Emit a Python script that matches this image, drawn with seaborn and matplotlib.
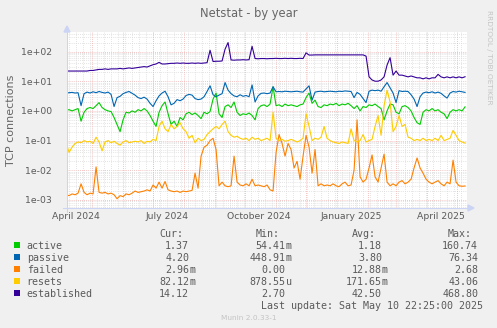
import numpy as np
import pandas as pd
import matplotlib
matplotlib.use("Agg")
import matplotlib.pyplot as plt
import matplotlib.dates as mdates
from matplotlib.ticker import LogLocator, FuncFormatter, NullFormatter, FixedLocator
from matplotlib.patches import Rectangle, Polygon
from matplotlib.lines import Line2D
import seaborn as sns

# ---- data: one sample every 3 days, starting 2024-04-05 ----
start_date = "2024-04-05"
step_days = 3

active = [
    1.05, 1.1, 1.0, 1.1, 1.2, 0.45, 0.9, 1.2, 1.3, 1.2,
    1.5, 1.9, 1.3, 1.1, 1.0, 0.95, 0.6, 0.35, 0.2, 0.5,
    0.9, 0.85, 1.0, 0.9, 1.1, 1.0, 1.2, 1.0, 0.7, 0.45,
    0.3, 0.9, 1.5, 2.0, 0.8, 0.35, 0.45, 0.3, 0.6, 0.5,
    0.8, 0.9, 0.75, 0.85, 0.7, 0.55, 0.9, 0.8, 0.95, 2.5,
    4.0, 0.8, 0.6, 1.4, 1.6, 1.3, 2.0, 0.9, 0.7, 0.8,
    0.75, 0.85, 0.7, 0.5, 1.2, 1.5, 1.6, 1.4, 1.7, 6.5,
    1.5, 1.6, 1.4, 1.7, 1.5, 1.6, 1.5, 1.4, 1.6, 1.7,
    2.8, 4.0, 1.8, 2.3, 1.4, 1.3, 1.6, 1.5, 1.7, 1.6,
    1.8, 1.5, 1.7, 1.6, 1.8, 1.5, 1.2, 1.5, 1.0, 1.4,
    1.3, 1.6, 1.5, 1.7, 1.4, 1.2, 0.5, 1.0, 1.7, 1.6,
    0.9, 0.8, 1.4, 1.5, 1.3, 1.0, 0.6, 0.4, 0.35, 0.9,
    1.1, 1.0, 1.2, 1.0, 1.1, 0.9, 0.8, 0.55, 0.9, 1.1,
    1.0, 1.1, 1.0, 1.37,
]

passive = [
    4.0, 4.1, 4.2, 4.0, 4.1, 1.5, 3.8, 4.3, 4.0, 4.4,
    4.1, 4.5, 4.2, 4.0, 4.3, 3.6, 1.4, 2.8, 3.1, 3.8,
    4.2, 4.5, 3.9, 3.4, 2.8, 2.6, 2.9, 2.5, 1.8, 1.4,
    2.2, 3.2, 4.0, 4.6, 3.0, 1.6, 1.8, 2.4, 2.2, 2.5,
    3.3, 3.6, 3.4, 2.6, 2.4, 2.5, 3.0, 4.5, 7.0, 3.5,
    3.0, 3.4, 3.8, 9.0, 5.0, 3.8, 3.2, 3.0, 3.5, 3.1,
    3.3, 3.0, 7.5, 2.0, 3.2, 3.9, 4.0, 3.8, 4.0, 6.5,
    4.4, 4.5, 4.4, 4.6, 4.5, 4.4, 4.5, 4.6, 4.4, 4.3,
    5.5, 7.0, 2.3, 4.3, 4.5, 4.6, 4.4, 4.5, 4.6, 4.5,
    4.4, 4.6, 4.5, 4.7, 4.6, 4.5, 2.8, 4.2, 3.6, 2.6,
    1.9, 4.6, 5.0, 4.8, 5.0, 4.6, 6.5, 9.0, 6.0, 4.0,
    1.9, 4.8, 4.5, 4.6, 4.5, 3.5, 2.5, 1.4, 3.0, 4.0,
    4.3, 4.1, 4.4, 4.0, 4.3, 3.9, 3.2, 2.7, 4.0, 4.5,
    4.3, 4.6, 4.4, 4.20,
]

failed = [
    0.0015, 0.0014, 0.0016, 0.0015, 0.0017, 0.0035, 0.0018, 0.0015, 0.0017, 0.0016,
    0.013, 0.0018, 0.0017, 0.0018, 0.0016, 0.0017, 0.0015, 0.0011, 0.0014, 0.0013,
    0.0016, 0.0015, 0.0017, 0.002, 0.0018, 0.0019, 0.002, 0.0022, 0.002, 0.0032,
    0.0025, 0.004, 0.0025, 0.0042, 0.0022, 0.002, 0.0019, 0.002, 0.0018, 0.002,
    0.0019, 0.002, 0.0021, 0.008, 0.0025, 0.03, 0.06, 0.07, 0.1, 0.12,
    0.05, 0.003, 0.004, 0.003, 0.0028, 0.003, 0.03, 0.004, 0.0032, 0.003,
    0.0035, 0.003, 0.005, 0.003, 0.0032, 0.003, 0.0028, 0.0032, 0.0022, 0.002,
    0.04, 0.16, 0.08, 0.03, 0.08, 0.05, 0.012, 0.02, 0.005, 0.03,
    0.15, 0.06, 0.008, 0.05, 0.003, 0.0035, 0.003, 0.0032, 0.003, 0.0035,
    0.003, 0.0028, 0.0035, 0.004, 0.003, 0.0032, 0.01, 0.5, 0.006, 0.004,
    0.005, 0.012, 0.033, 0.006, 0.004, 0.012, 0.035, 0.004, 0.003, 0.0035,
    0.003, 0.004, 0.0045, 0.0035, 0.004, 0.005, 0.012, 0.026, 0.012, 0.008,
    0.005, 0.004, 0.0035, 0.004, 0.0045, 0.0035, 0.003, 0.004, 0.0035, 0.022,
    0.004, 0.003, 0.0029, 0.00296,
]

resets = [
    0.085, 0.04, 0.06, 0.08, 0.09, 0.085, 0.1, 0.09, 0.095, 0.08,
    0.13, 0.09, 0.045, 0.09, 0.1, 0.085, 0.095, 0.08, 0.07, 0.09,
    0.1, 0.085, 0.09, 0.095, 0.09, 0.1, 0.08, 0.095, 0.09, 0.11,
    0.1, 0.3, 0.45, 0.25, 0.2, 0.35, 0.25, 0.3, 0.4, 0.25,
    0.2, 0.12, 0.15, 0.085, 0.12, 0.1, 0.11, 0.16, 0.2, 0.25,
    0.3, 0.25, 0.35, 0.45, 0.2, 0.15, 0.13, 0.14, 0.12, 0.11,
    0.12, 0.1, 0.13, 0.11, 0.12, 0.1, 0.11, 0.12, 0.1, 0.9,
    0.12, 0.1, 0.11, 0.095, 0.1, 0.11, 0.1, 0.09, 0.1, 0.12,
    0.8, 0.3, 0.1, 0.12, 0.11, 0.13, 0.3, 0.12, 0.1, 0.09,
    0.085, 0.08, 0.09, 0.085, 0.08, 0.25, 0.1, 0.09, 0.1, 0.16,
    0.09, 0.1, 0.11, 0.3, 0.7, 0.15, 1.5, 5.0, 2.0, 0.2,
    0.3, 0.7, 0.3, 0.35, 0.13, 0.12, 0.1, 0.11, 0.1, 0.12,
    0.1, 0.11, 0.1, 0.12, 0.1, 0.15, 0.1, 0.11, 0.12, 0.22,
    0.15, 0.1, 0.09, 0.08212,
]

established = [
    22, 22, 22, 22, 22, 22, 22, 22, 23, 23,
    24, 25, 25, 26, 25, 26, 26, 26, 27, 26,
    27, 28, 27, 28, 29, 30, 31, 30, 33, 36,
    38, 43, 38, 38, 39, 40, 40, 41, 40, 41,
    40, 40, 41, 40, 41, 40, 41, 42, 110, 46,
    47, 47, 48, 120, 200, 52, 51, 52, 52, 53,
    52, 53, 150, 58, 57, 58, 58, 57, 58, 58,
    59, 58, 58, 59, 58, 59, 58, 58, 59, 58,
    90, 76, 76, 77, 77, 77, 77, 77, 77, 77,
    77, 77, 77, 77, 77, 77, 77, 77, 77, 77,
    70, 14, 11, 10, 10, 11, 14, 35, 62, 16,
    22, 16, 16, 15, 14, 15, 14, 13, 13, 12,
    13, 12, 13, 13, 17, 14, 13, 14, 13, 14,
    13, 14, 13, 14.12,
]

series_names = ["active", "passive", "failed", "resets", "established"]
series_colors = ["#00CC00", "#0066B3", "#FF8000", "#FFCC00", "#330099"]

# legend statistics (Cur, Min, Avg, Max)
stat_cur = [1.37, 4.20, 2.96e-3, 82.12e-3, 14.12]
stat_min = [54.41e-3, 448.91e-3, 0.0, 878.55e-6, 2.70]
stat_avg = [1.18, 3.80, 12.88e-3, 171.65e-3, 42.50]
stat_max = [160.74, 76.34, 2.68, 43.06, 468.80]
stat_heads = ["Cur:", "Min:", "Avg:", "Max:"]

title = "Netstat - by year"
ylabel = "TCP connections"
last_update = "Last update: Sat May 10 22:25:00 2025"
footer = "Munin 2.0.33-1"
side_note = "RRDTOOL / TOBI OETIKER"

view_start = pd.Timestamp("2024-04-05 22:25")
view_end = pd.Timestamp("2025-05-10 22:25")

# ---- long-form table for seaborn ----
values = [active, passive, failed, resets, established]
frames = []
for name, vals in zip(series_names, values):
    dates = pd.date_range(start_date, periods=len(vals), freq=f"{step_days}D")
    frames.append(pd.DataFrame({"date": dates, "value": vals, "series": name}))
df = pd.concat(frames, ignore_index=True)

# ---- figure geometry (pixel based) ----
W, H = 497, 328
BG = "#F0F0F0"
TXT = "#5A5A5A"


def fx(px):
    return px / W


def fy(py):
    return 1 - py / H


fig = plt.figure(figsize=(W / 100, H / 100), dpi=100, facecolor=BG)
ax = fig.add_axes([fx(67), fy(208), 400 / W, 176 / H])
ax.set_facecolor("white")

sns.lineplot(data=df, x="date", y="value", hue="series", hue_order=series_names,
             palette=series_colors, linewidth=0.8, legend=False, ax=ax,
             estimator=None, zorder=3)

ax.set_yscale("log")
ax.set_ylim(10 ** -3.27, 10 ** 2.657)
ax.set_xlim(view_start, view_end)
ax.set_xlabel("")
ax.set_ylabel("")

# horizontal grid: decades in red, 2..9 in grey
ax.yaxis.set_major_locator(LogLocator(base=10, numticks=20))
ax.yaxis.set_minor_locator(LogLocator(base=10, subs=np.arange(2, 10), numticks=20))
ax.yaxis.set_major_formatter(FuncFormatter(lambda v, p: f"{v:.0e}"))
ax.yaxis.set_minor_formatter(NullFormatter())
dot = (0, (1, 1.5))
GRID_MINOR = "#DADADA"
GRID_MAJOR = "#F2B0B0"
ax.grid(which="major", axis="y", color=GRID_MAJOR, linestyle=dot, linewidth=0.6, zorder=1)
ax.grid(which="minor", axis="y", color=GRID_MINOR, linestyle=dot, linewidth=0.6, zorder=1)
ax.set_axisbelow(True)

# vertical grid: weeks in grey, month starts in red
weeks = pd.date_range("2024-04-08", view_end, freq="7D")
months = pd.date_range("2024-05-01", view_end, freq="MS")
xform = ax.get_xaxis_transform()
ax.vlines(weeks, 0, 1, transform=xform, colors=GRID_MINOR, linestyles=dot, linewidth=0.6, zorder=1)
ax.vlines(months, 0, 1, transform=xform, colors=GRID_MAJOR, linestyles=dot, linewidth=0.6, zorder=1.5)

# month labels at mid-month every quarter
ax.xaxis.set_major_locator(mdates.MonthLocator(bymonth=[1, 4, 7, 10], bymonthday=15))
ax.xaxis.set_major_formatter(mdates.DateFormatter("%B %Y"))
ax.xaxis.set_minor_locator(FixedLocator([]))
ax.tick_params(axis="x", which="both", length=0, pad=3, labelsize=6.7, labelcolor=TXT)
ax.tick_params(axis="y", which="both", length=0, pad=11, labelsize=6.7, labelcolor=TXT)

for s in ax.spines.values():
    s.set_visible(False)

# axis lines with arrow heads
AX_COL = "#CCD4F5"
fig.add_artist(Line2D([fx(67), fx(67)], [fy(212), fy(30)], color=AX_COL, lw=0.75))
fig.add_artist(Line2D([fx(63), fx(469)], [fy(208), fy(208)], color=AX_COL, lw=0.75))
fig.add_artist(Polygon([[fx(64), fy(32)], [fx(70), fy(32)], [fx(67), fy(26)]],
                       closed=True, color=AX_COL, transform=fig.transFigure))
fig.add_artist(Polygon([[fx(468), fy(205)], [fx(468), fy(211)], [fx(474), fy(208)]],
                       closed=True, color=AX_COL, transform=fig.transFigure))

# titles
fig.text(fx(248.5), fy(13), title, ha="center", va="center", fontsize=8.3, color="#666666")
fig.text(fx(11), fy(120), ylabel, rotation=90, ha="center", va="center", fontsize=8, color="#666666")
fig.text(fx(489), fy(57), side_note, rotation=270, ha="center", va="center",
         fontsize=5.3, color="#C4C4C4")

# ---- legend table in monospace ----
MONO = "DejaVu Sans Mono"
LFS = 7.2
CW = 6.02          # character advance in pixels
X0 = 26.7          # left edge of the legend text


def si(v):
    """Number and SI suffix, rrdtool style."""
    if v == 0:
        return "0.00", ""
    e = int(np.floor(np.log10(abs(v)) / 3))
    e = max(-2, min(1, e))
    prefix = {-2: "u", -1: "m", 0: "", 1: "k"}[e]
    return f"{v / 10 ** (3 * e):.2f}", prefix


def mono(x, y, s, ha="left", **kw):
    fig.text(fx(x), fy(y), s, ha=ha, va="baseline", fontsize=LFS, family=MONO,
             color=TXT, **kw)


head_cols = [22, 38, 54, 70]
num_edges = [27, 43, 59, 75]
for col, head in zip(head_cols, stat_heads):
    mono(X0 + col * CW, 237.3, head)

stats = [stat_cur, stat_min, stat_avg, stat_max]
for k, name in enumerate(series_names):
    base = 249.3 + 12.0 * k
    mono(X0, base, name)
    for edge, col_vals in zip(num_edges, stats):
        num, suf = si(col_vals[k])
        mono(X0 + edge * CW, base, num, ha="right")
        if suf:
            mono(X0 + edge * CW, base, suf)
    fig.add_artist(Rectangle((fx(14), fy(base - 1)), 6 / W, 6 / H,
                             transform=fig.transFigure, color=series_colors[k], lw=0))

mono(483.3, 309, last_update, ha="right")
fig.text(fx(248.5), fy(320), footer, ha="center", va="baseline", fontsize=5.3,
         color="#C4C4C4")

fig.savefig("out.png", dpi=100, facecolor=BG)
